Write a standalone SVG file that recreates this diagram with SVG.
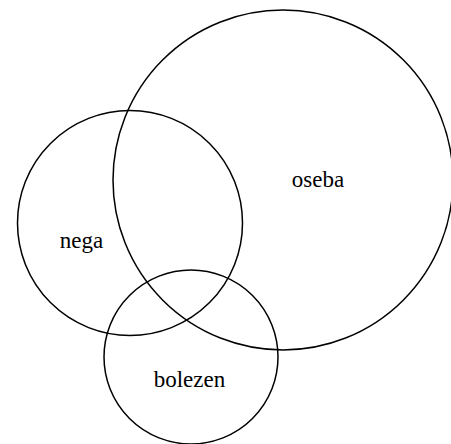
<svg xmlns="http://www.w3.org/2000/svg" width="451" height="444" viewBox="0 0 451 444">
<style>
.c{fill:none;stroke:#000;stroke-width:1.5}
.t{font-family:"Liberation Serif","Times New Roman",serif;font-size:23px;fill:#000;text-anchor:middle}
</style>
<rect width="451" height="444" fill="#fff"/>
<g id="oseba"><circle class="c" cx="283" cy="180" r="170"/><text class="t" x="318" y="187">oseba</text></g>
<g id="nega"><circle class="c" cx="130" cy="223" r="112.5"/><text class="t" x="81.5" y="248">nega</text></g>
<g id="bolezen"><circle class="c" cx="191" cy="357" r="87"/><text class="t" x="189.5" y="387">bolezen</text></g>
<g id="connectors"></g>
</svg>
